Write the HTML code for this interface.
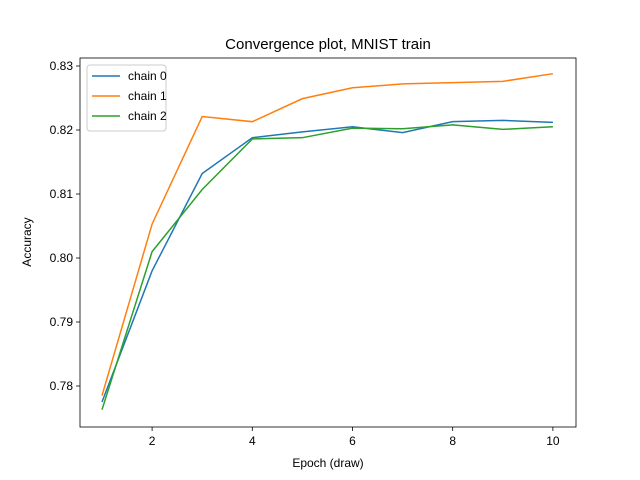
<!DOCTYPE html>
<html><head><meta charset="utf-8"><style>
body{margin:0;background:#fff}
svg{display:block;font-family:"Liberation Sans","DejaVu Sans",sans-serif}
</style></head><body>
<svg id="chart" width="640" height="480"></svg>
<script>
const epochs=[1,2,3,4,5,6,7,8,9,10];
const chain0=[0.7775,0.798,0.8132,0.8188,0.8197,0.8205,0.8196,0.8213,0.8215,0.8212];
const chain1=[0.7785,0.8053,0.8221,0.8213,0.8249,0.8266,0.8272,0.8274,0.8276,0.8288];
const chain2=[0.7763,0.801,0.8107,0.8186,0.8188,0.8203,0.8202,0.8208,0.8201,0.8205];
const xTicks=[2,4,6,8,10];
const yTicks=[0.78,0.79,0.80,0.81,0.82,0.83];
const seriesNames=["chain 0","chain 1","chain 2"];
const colors=["#1f77b4","#ff7f0e","#2ca02c"];
const L=80,R=576,T=58,B=427;
const xs=x=>102+(x-1)*50.1;
const ys=y=>386-(y-0.78)*6400;
const svg=document.getElementById('chart');
const NS="http://www.w3.org/2000/svg";
function mk(tag,attrs,parent){const e=document.createElementNS(NS,tag);for(const k in attrs)e.setAttribute(k,attrs[k]);(parent||svg).appendChild(e);return e;}
const title=mk('text',{x:328,y:49,'text-anchor':'middle','font-size':15});title.textContent="Convergence plot, MNIST train";


xTicks.forEach(t=>{const g=mk('g',{});


mk('line',{x1:xs(t),x2:xs(t),y1:B,y2:B+4,stroke:'#000','stroke-width':0.8},g);
const tx=mk('text',{x:xs(t),y:B+18,'text-anchor':'middle','font-size':12},g);tx.textContent=t;});
yTicks.forEach(t=>{const g=mk('g',{});


mk('line',{x1:L-4,x2:L,y1:ys(t),y2:ys(t),stroke:'#000','stroke-width':0.8},g);
const tx=mk('text',{x:L-7,y:ys(t)+4,'text-anchor':'end','font-size':12},g);tx.textContent=t.toFixed(2);});
const xl=mk('text',{x:328,y:467,'text-anchor':'middle','font-size':12});xl.textContent="Epoch (draw)";


const yl=mk('text',{x:31,y:242,'text-anchor':'middle','font-size':12,transform:'rotate(-90 31 242)'});yl.textContent="Accuracy";


[chain0,chain1,chain2].forEach((s,i)=>{
const p=mk('polyline',{points:s.map((v,j)=>xs(epochs[j])+','+ys(v)).join(' '),fill:'none',stroke:colors[i],'stroke-width':1.5});

});
const frame=mk('rect',{x:L,y:T,width:R-L,height:B-T,fill:'none',stroke:'#000','stroke-width':0.8});


const lg=mk('g',{});


mk('rect',{x:87,y:65,width:79,height:66,rx:3,fill:'#fff','fill-opacity':0.8,stroke:'#ccc'},lg);
seriesNames.forEach((n,i)=>{const g=mk('g',{},lg);


const y=76+i*20;mk('line',{x1:92,x2:120,y1:y,y2:y,stroke:colors[i],'stroke-width':1.5},g);
const t=mk('text',{x:128,y:y+4,'font-size':12},g);t.textContent=n;});
</script>
</body></html>
